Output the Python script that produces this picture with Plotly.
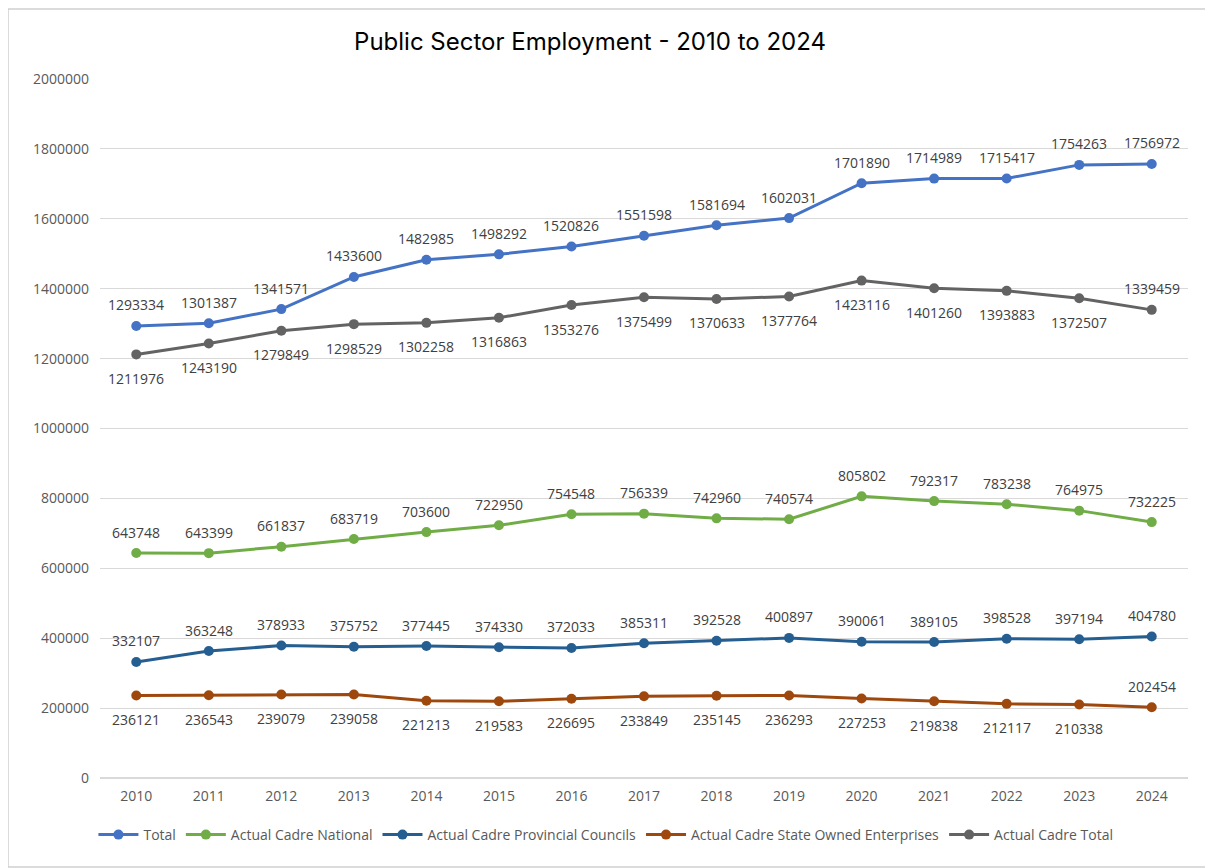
import plotly.graph_objects as go

years = [str(y) for y in range(2010, 2025)]

total = [1293334, 1301387, 1341571, 1433600, 1482985, 1498292, 1520826, 1551598,
         1581694, 1602031, 1701890, 1714989, 1715417, 1754263, 1756972]
national = [643748, 643399, 661837, 683719, 703600, 722950, 754548, 756339,
            742960, 740574, 805802, 792317, 783238, 764975, 732225]
provincial = [332107, 363248, 378933, 375752, 377445, 374330, 372033, 385311,
              392528, 400897, 390061, 389105, 398528, 397194, 404780]
soe = [236121, 236543, 239079, 239058, 221213, 219583, 226695, 233849,
       235145, 236293, 227253, 219838, 212117, 210338, 202454]
cadre_total = [1211976, 1243190, 1279849, 1298529, 1302258, 1316863, 1353276, 1375499,
               1370633, 1377764, 1423116, 1401260, 1393883, 1372507, 1339459]

y_ticks = [0, 200000, 400000, 600000, 800000, 1000000, 1200000, 1400000,
           1600000, 1800000, 2000000]

# label side: 1 = above, -1 = below
series = [
    ("Total", total, "#4472C4", [1] * 15),
    ("Actual Cadre National", national, "#70AD47", [1] * 15),
    ("Actual Cadre Provincial Councils", provincial, "#255E91", [1] * 15),
    ("Actual Cadre State Owned Enterprises", soe, "#9E480E", [-1] * 14 + [1]),
    ("Actual Cadre Total", cadre_total, "#636363", [-1] * 14 + [1]),
]

FONT = "Open Sans, Liberation Sans, Arial"

fig = go.Figure()
annotations = []
for name, vals, color, sides in series:
    fig.add_trace(go.Scatter(
        x=years, y=vals, name=name, mode="lines+markers",
        line=dict(color=color, width=3),
        marker=dict(color=color, size=10),
        cliponaxis=False,
    ))
    # category axis: position by category index
    for i, (yv, s) in enumerate(zip(vals, sides)):
        annotations.append(dict(
            x=i, y=yv, xref="x", yref="y", text=str(yv), showarrow=False,
            yanchor="middle", xanchor="center", yshift=21 if s > 0 else -24,
            font=dict(family=FONT, size=14, color="#404040"),
        ))

W, H = 1205, 860
L, R, T, B = 92, 25, 71, 90
pw, ph = W - L - R, H - T - B

fig.update_layout(
    width=W, height=H,
    paper_bgcolor="white", plot_bgcolor="white",
    margin=dict(l=L, r=R, t=T, b=B),
    title=dict(text="Public Sector Employment - 2010 to 2024", x=0.483, xanchor="center",
               y=1 - 34 / H, yanchor="middle",
               font=dict(family="Inter, Noto Sans, sans-serif", size=24, color="#000000")),
    showlegend=True,
    legend=dict(orientation="h", x=0.465, xanchor="center", y=-57 / ph, yanchor="middle",
                font=dict(family=FONT, size=14, color="#595959"),
                itemwidth=40, tracegroupgap=0),
    xaxis=dict(type="category", range=[-0.5, 14.5], showgrid=False, showline=False,
               ticks="", ticklabelstandoff=8,
               tickfont=dict(family=FONT, size=14, color="#595959")),
    yaxis=dict(range=[0, 2000000], tickvals=y_ticks, ticktext=[str(v) for v in y_ticks],
               showgrid=True, gridcolor="#D9D9D9", gridwidth=1, zeroline=True,
               zerolinecolor="#D9D9D9", showline=False, ticks="", ticklabelstandoff=10,
               tickfont=dict(family=FONT, size=14, color="#595959")),
    annotations=annotations,
    shapes=[dict(type="rect", xref="paper", yref="paper",
                 x0=(0 - L) / pw, x1=(W + 6 - L) / pw,
                 y0=-(B - 1) / ph, y1=(ph + T - 1) / ph,
                 line=dict(color="#D0D0D0", width=1.5), layer="below")],
)

fig.write_html("out.html")
